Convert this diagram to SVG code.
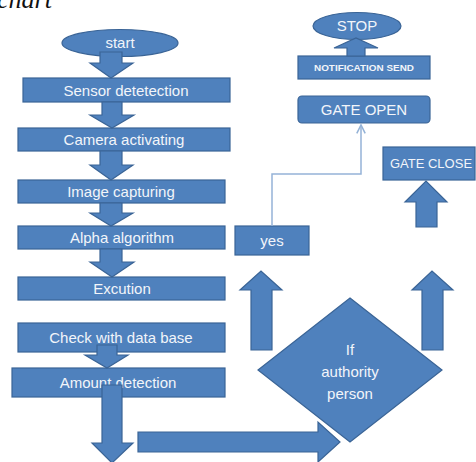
<svg xmlns="http://www.w3.org/2000/svg" width="476" height="462" viewBox="0 0 476 462">
<defs>
<style>
.s{fill:#4f81bd;stroke:#3a6496;stroke-width:1.2}
.t{fill:#f2f5fa;font-family:"Liberation Sans",Arial,sans-serif;font-size:15px;text-anchor:middle}
.c{fill:none;stroke:#95b3d7;stroke-width:1.5}
</style>
<marker id="ah" viewBox="0 0 10 10" refX="9" refY="5" markerWidth="7" markerHeight="7" orient="auto"><path d="M1,1 L9,5 L1,9" fill="none" stroke="#95b3d7" stroke-width="1.5"/></marker>
</defs>
<rect width="476" height="462" fill="#ffffff"/>
<text x="-3" y="8" font-family="'Liberation Serif',serif" font-style="italic" font-size="26" fill="#111">chart</text>

<g id="start"><ellipse class="s" cx="120" cy="43" rx="58" ry="13.5"/><text class="t" x="120" y="48">start</text></g>
<g id="sensor"><rect class="s" x="23" y="78" width="207" height="24"/><text class="t" x="126" y="96">Sensor detetection</text></g>
<g id="camera"><rect class="s" x="18" y="128" width="212" height="23"/><text class="t" x="124" y="145">Camera activating</text></g>
<g id="image"><rect class="s" x="18" y="180" width="207" height="23"/><text class="t" x="121" y="197">Image capturing</text></g>
<g id="alpha"><rect class="s" x="18" y="226" width="207" height="23"/><text class="t" x="122" y="243">Alpha algorithm</text></g>
<g id="excution"><rect class="s" x="18" y="277" width="207" height="23"/><text class="t" x="122" y="294">Excution</text></g>
<g id="check"><rect class="s" x="18" y="323" width="207" height="29"/><text class="t" x="121" y="343">Check with data base</text></g>
<g id="amount"><rect class="s" x="12" y="368" width="213" height="29"/><text class="t" x="118" y="388">Amount detection</text></g>
<g id="decision"><polygon class="s" points="350,298 442,370 350,442 258,370"/><text class="t" x="350" y="355">If</text><text class="t" x="350" y="377">authority</text><text class="t" x="350" y="399">person</text></g>
<g id="yes"><rect class="s" x="235" y="226" width="74" height="29"/><text class="t" x="272" y="246">yes</text></g>
<g id="gateclose"><rect class="s" x="383" y="147" width="92" height="33"/><text class="t" x="431" y="168" style="font-size:13px">GATE CLOSE</text></g>
<g id="gateopen"><rect class="s" x="298" y="96" width="132" height="27" rx="4"/><text class="t" x="364" y="115">GATE OPEN</text></g>
<g id="notification"><rect class="s" x="298" y="56" width="132" height="23"/><text class="t" x="364" y="71" style="font-size:9px;font-weight:bold" textLength="100" lengthAdjust="spacingAndGlyphs">NOTIFICATION SEND</text></g>
<g id="stop"><ellipse class="s" cx="357" cy="26" rx="44" ry="13.5"/><text class="t" x="357" y="31">STOP</text></g>

<g id="connectors">
<polygon class="s" points="100,52 122,52 122,63 133,63 111,78 90,63 100,63"/>
<polygon class="s" points="102,102 122,102 122,115 134,115 112,128 90,115 102,115"/>
<polygon class="s" points="100,151 122,151 122,165 133,165 111,180 90,165 100,165"/>
<polygon class="s" points="100,203 122,203 122,213 133,213 111,226 90,213 100,213"/>
<polygon class="s" points="100,249 122,249 122,262 134,262 112,277 90,262 100,262"/>
<polygon class="s" points="97,345 117,345 117,355 128,355 107,368 85,355 97,355"/>
<polygon class="s" points="102,385 122,385 122,443 133,443 112,463 92,443 102,443"/>
<polygon class="s" points="138,432 318,432 318,422 340,442 318,462 318,452 138,452"/>
<polygon class="s" points="251,350 251,290 240,290 261,271 282,290 272,290 272,350"/>
<polygon class="s" points="422,350 422,290 412,290 432,271 453,290 443,290 443,350"/>
<polygon class="s" points="416,227 416,202 405,202 426,181 447,202 437,202 437,227"/>
<polygon class="s" points="347,56 347,48 334,48 356,38 378,48 365,48 365,56"/>
<polyline class="c" points="272,226 272,174 361,174 361,125" marker-end="url(#ah)"/>
</g>
</svg>
